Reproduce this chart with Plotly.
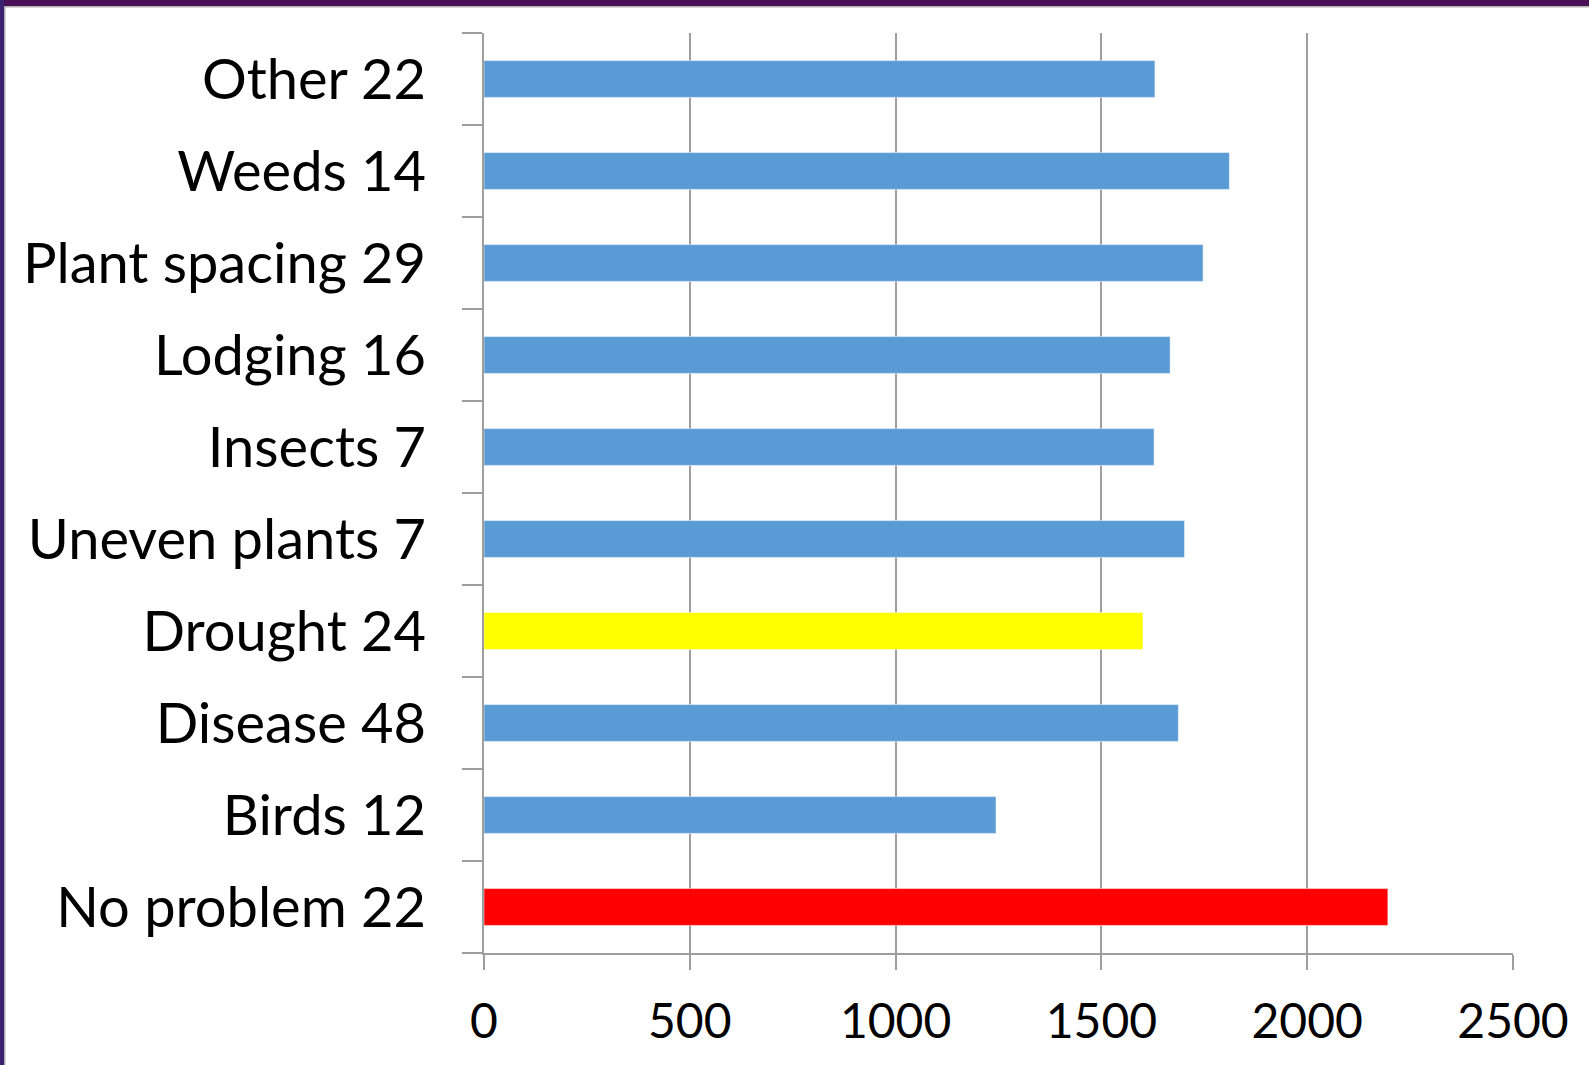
import plotly.graph_objects as go

categories = ["No problem 22", "Birds 12", "Disease 48", "Drought 24", "Uneven plants 7",
              "Insects 7", "Lodging 16", "Plant spacing 29", "Weeds 14", "Other 22"]
values = [2196, 1244, 1687, 1601, 1702, 1628, 1667, 1747, 1811, 1630]
colors = ["#FF0000", "#5B9BD5", "#5B9BD5", "#FFFF00", "#5B9BD5",
          "#5B9BD5", "#5B9BD5", "#5B9BD5", "#5B9BD5", "#5B9BD5"]
x_ticks = [0, 500, 1000, 1500, 2000, 2500]

W, H = 1589, 1065
L, R, T, B = 484, 76, 33, 112
pw = W - L - R
ph = H - T - B

fig = go.Figure(go.Bar(
    y=categories, x=values, orientation="h",
    marker=dict(color=colors, line=dict(color="rgba(255,255,255,0.5)", width=1)),
))

grid = "#9E9E9E"
fig.update_layout(
    width=W, height=H,
    margin=dict(l=L, r=R, t=T, b=B),
    paper_bgcolor="white", plot_bgcolor="white",
    bargap=0.6, showlegend=False,
    font=dict(family="Lato, sans-serif", color="black"),
    xaxis=dict(range=[0, 2500], tickvals=x_ticks, ticktext=[str(v) for v in x_ticks],
               showgrid=True, gridcolor=grid, gridwidth=1.5,
               showline=True, linecolor=grid, linewidth=1.5, mirror=False,
               ticks="outside", ticklen=15, tickcolor=grid, tickwidth=1.5,
               tickfont=dict(size=48, family="Lato, sans-serif", color="black"),
               ticklabelstandoff=11, zeroline=False, fixedrange=True),
    yaxis=dict(type="category", categoryorder="array", categoryarray=categories,
               showgrid=False, showline=True, linecolor=grid, linewidth=1.5,
               ticks="outside", ticklen=20, tickcolor=grid, tickwidth=1.5,
               tickson="boundaries",
               tickfont=dict(size=56, family="Lato, sans-serif", color="black"),
               ticklabelstandoff=45, fixedrange=True),
)

def px_x(p):
    return (p - L) / pw

def px_y(p):
    return (H - B - p) / ph

# slide frame strips (top purple, left navy)
fig.add_shape(type="rect", xref="paper", yref="paper",
              x0=px_x(0), x1=px_x(W), y0=px_y(6), y1=px_y(0),
              fillcolor="#4A1055", line_width=0, layer="above")
fig.add_shape(type="rect", xref="paper", yref="paper",
              x0=px_x(0), x1=px_x(W), y0=px_y(7.5), y1=px_y(6),
              fillcolor="#B0B0B0", line_width=0, layer="above")
fig.add_shape(type="rect", xref="paper", yref="paper",
              x0=px_x(0), x1=px_x(4), y0=px_y(H), y1=px_y(0),
              fillcolor="#3A2270", line_width=0, layer="above")
fig.add_shape(type="rect", xref="paper", yref="paper",
              x0=px_x(4), x1=px_x(5.5), y0=px_y(H), y1=px_y(6),
              fillcolor="#B0B0B0", line_width=0, layer="above")

fig.write_html("out.html", config={"displayModeBar": False},
               post_script="document.body.style.margin='0';")
